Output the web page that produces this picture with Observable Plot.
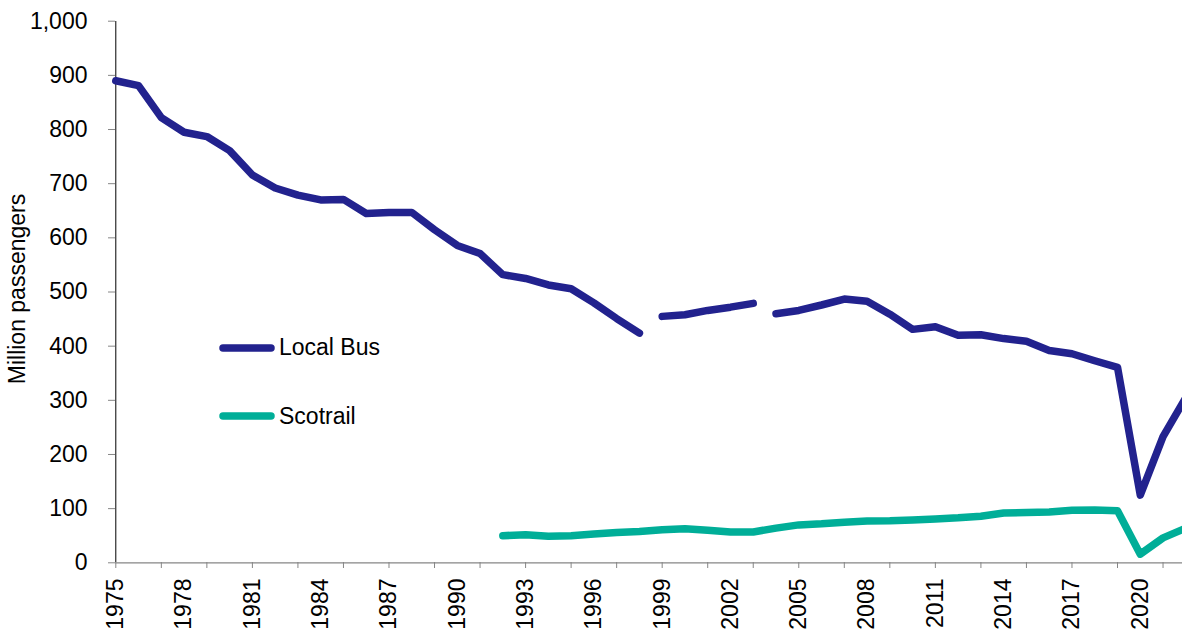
<!DOCTYPE html>
<html>
<head>
<meta charset="utf-8">
<script src="https://cdn.jsdelivr.net/npm/d3@7"></script>
<script src="https://cdn.jsdelivr.net/npm/@observablehq/plot@0.6"></script>
<style>
  html, body { margin: 0; padding: 0; background: #fff; }
  #wrap { position: relative; width: 1182px; height: 630px; overflow: hidden; font-family: "Liberation Sans", Arial, sans-serif; }
  .legend { position: absolute; left: 219px; display: flex; align-items: center; font-size: 23px; color: #000; }
  .legend svg { display: block; margin-right: 3px; }
</style>
</head>
<body>
<div id="wrap"></div>
<script>
// ---- data ----
const busYears = d3.range(1975, 2023);
const busValues = [890, 881, 822, 795, 787, 761, 716, 692, 679, 670, 671, 645, 647, 647, 615, 586, 571, 532, 525, 513, 506, 480, 451, 424,
                   455, 458, 466, 472, 479,
                   460, 466, 476, 487, 483, 459, 431, 436, 420, 421, 414, 409, 392, 386, 373, 361, 125, 233, 305];
const busBreaks = [1999, 2004]; // series breaks (line restarts)
const railYears = d3.range(1992, 2023);
const railValues = [50, 52, 49, 50, 53, 56, 58, 61, 63, 60, 57, 57, 64, 70, 72, 75, 77, 77.5, 79, 81, 83, 86, 92, 93, 94, 97, 97.5, 96, 16, 46, 64];
const seriesNames = ["Local Bus", "Scotrail"];
const seriesColors = ["#22228e", "#00ae98"];
const yTicks = d3.range(0, 1001, 100);
const xLabelTicks = d3.range(1975, 2021, 3);
const xMinorTicks = d3.range(1975, 2022, 2);
const yLabel = "Million passengers";

const bus = busYears.map((yr, i) => ({year: yr, value: busValues[i], seg: busBreaks.filter(b => yr >= b).length}));
const rail = railYears.map((yr, i) => ({year: yr, value: railValues[i]}));

const chart = Plot.plot({
  width: 1182,
  height: 630,
  marginTop: 21,
  marginBottom: 68,
  marginLeft: 115,
  marginRight: 0,
  style: {fontFamily: "'Liberation Sans', Arial, sans-serif", fontSize: "23px", color: "#000", background: "#fff"},
  x: {domain: [1975, 2022], range: [115.3, 1185.3]},
  y: {domain: [0, 1000], range: [562.3, 20.7]},
  marks: [
    Plot.ruleY([0], {stroke: "#868686", strokeWidth: 1.3}),
    Plot.ruleX([1975], {stroke: "#000", strokeWidth: 1}),
    Plot.axisY({ticks: yTicks, tickFormat: d3.format(","), tickSize: 7, tickPadding: 21, stroke: "#868686", label: null, fontSize: 23}),
    Plot.axisX({ticks: xMinorTicks, tickFormat: () => "", tickSize: 6, tickPadding: 0, stroke: "#868686", label: null}),
    Plot.axisX({ticks: xLabelTicks, tickFormat: d => String(d), tickSize: 0, tickPadding: 16, tickRotate: -90, label: null, fontSize: 23}),
    Plot.line(rail, {x: "year", y: "value", stroke: seriesColors[1], strokeWidth: 7.5, strokeLinejoin: "round", strokeLinecap: "round"}),
    Plot.line(bus, {x: "year", y: "value", z: "seg", stroke: seriesColors[0], strokeWidth: 7.5, strokeLinejoin: "round", strokeLinecap: "round"})
  ]
});

const wrap = document.getElementById("wrap");
wrap.appendChild(chart);

// y-axis title
const title = document.createElement("div");
title.textContent = yLabel;
title.style.cssText = "position:absolute;left:17px;top:289px;transform:translate(-50%,-50%) rotate(-90deg);font-size:23px;white-space:nowrap;color:#000;";
wrap.appendChild(title);

// legend
const legendTops = [347.7, 416];
seriesNames.forEach((name, i) => {
  const d = document.createElement("div");
  d.className = "legend";
  d.style.top = (legendTops[i] - 13) + "px";
  d.style.height = "26px";
  d.innerHTML = `<svg width="57" height="10"><line x1="4" y1="5" x2="52" y2="5" stroke="${seriesColors[i]}" stroke-width="7.5" stroke-linecap="round"/></svg><span>${name}</span>`;
  wrap.appendChild(d);
});
</script>
</body>
</html>
